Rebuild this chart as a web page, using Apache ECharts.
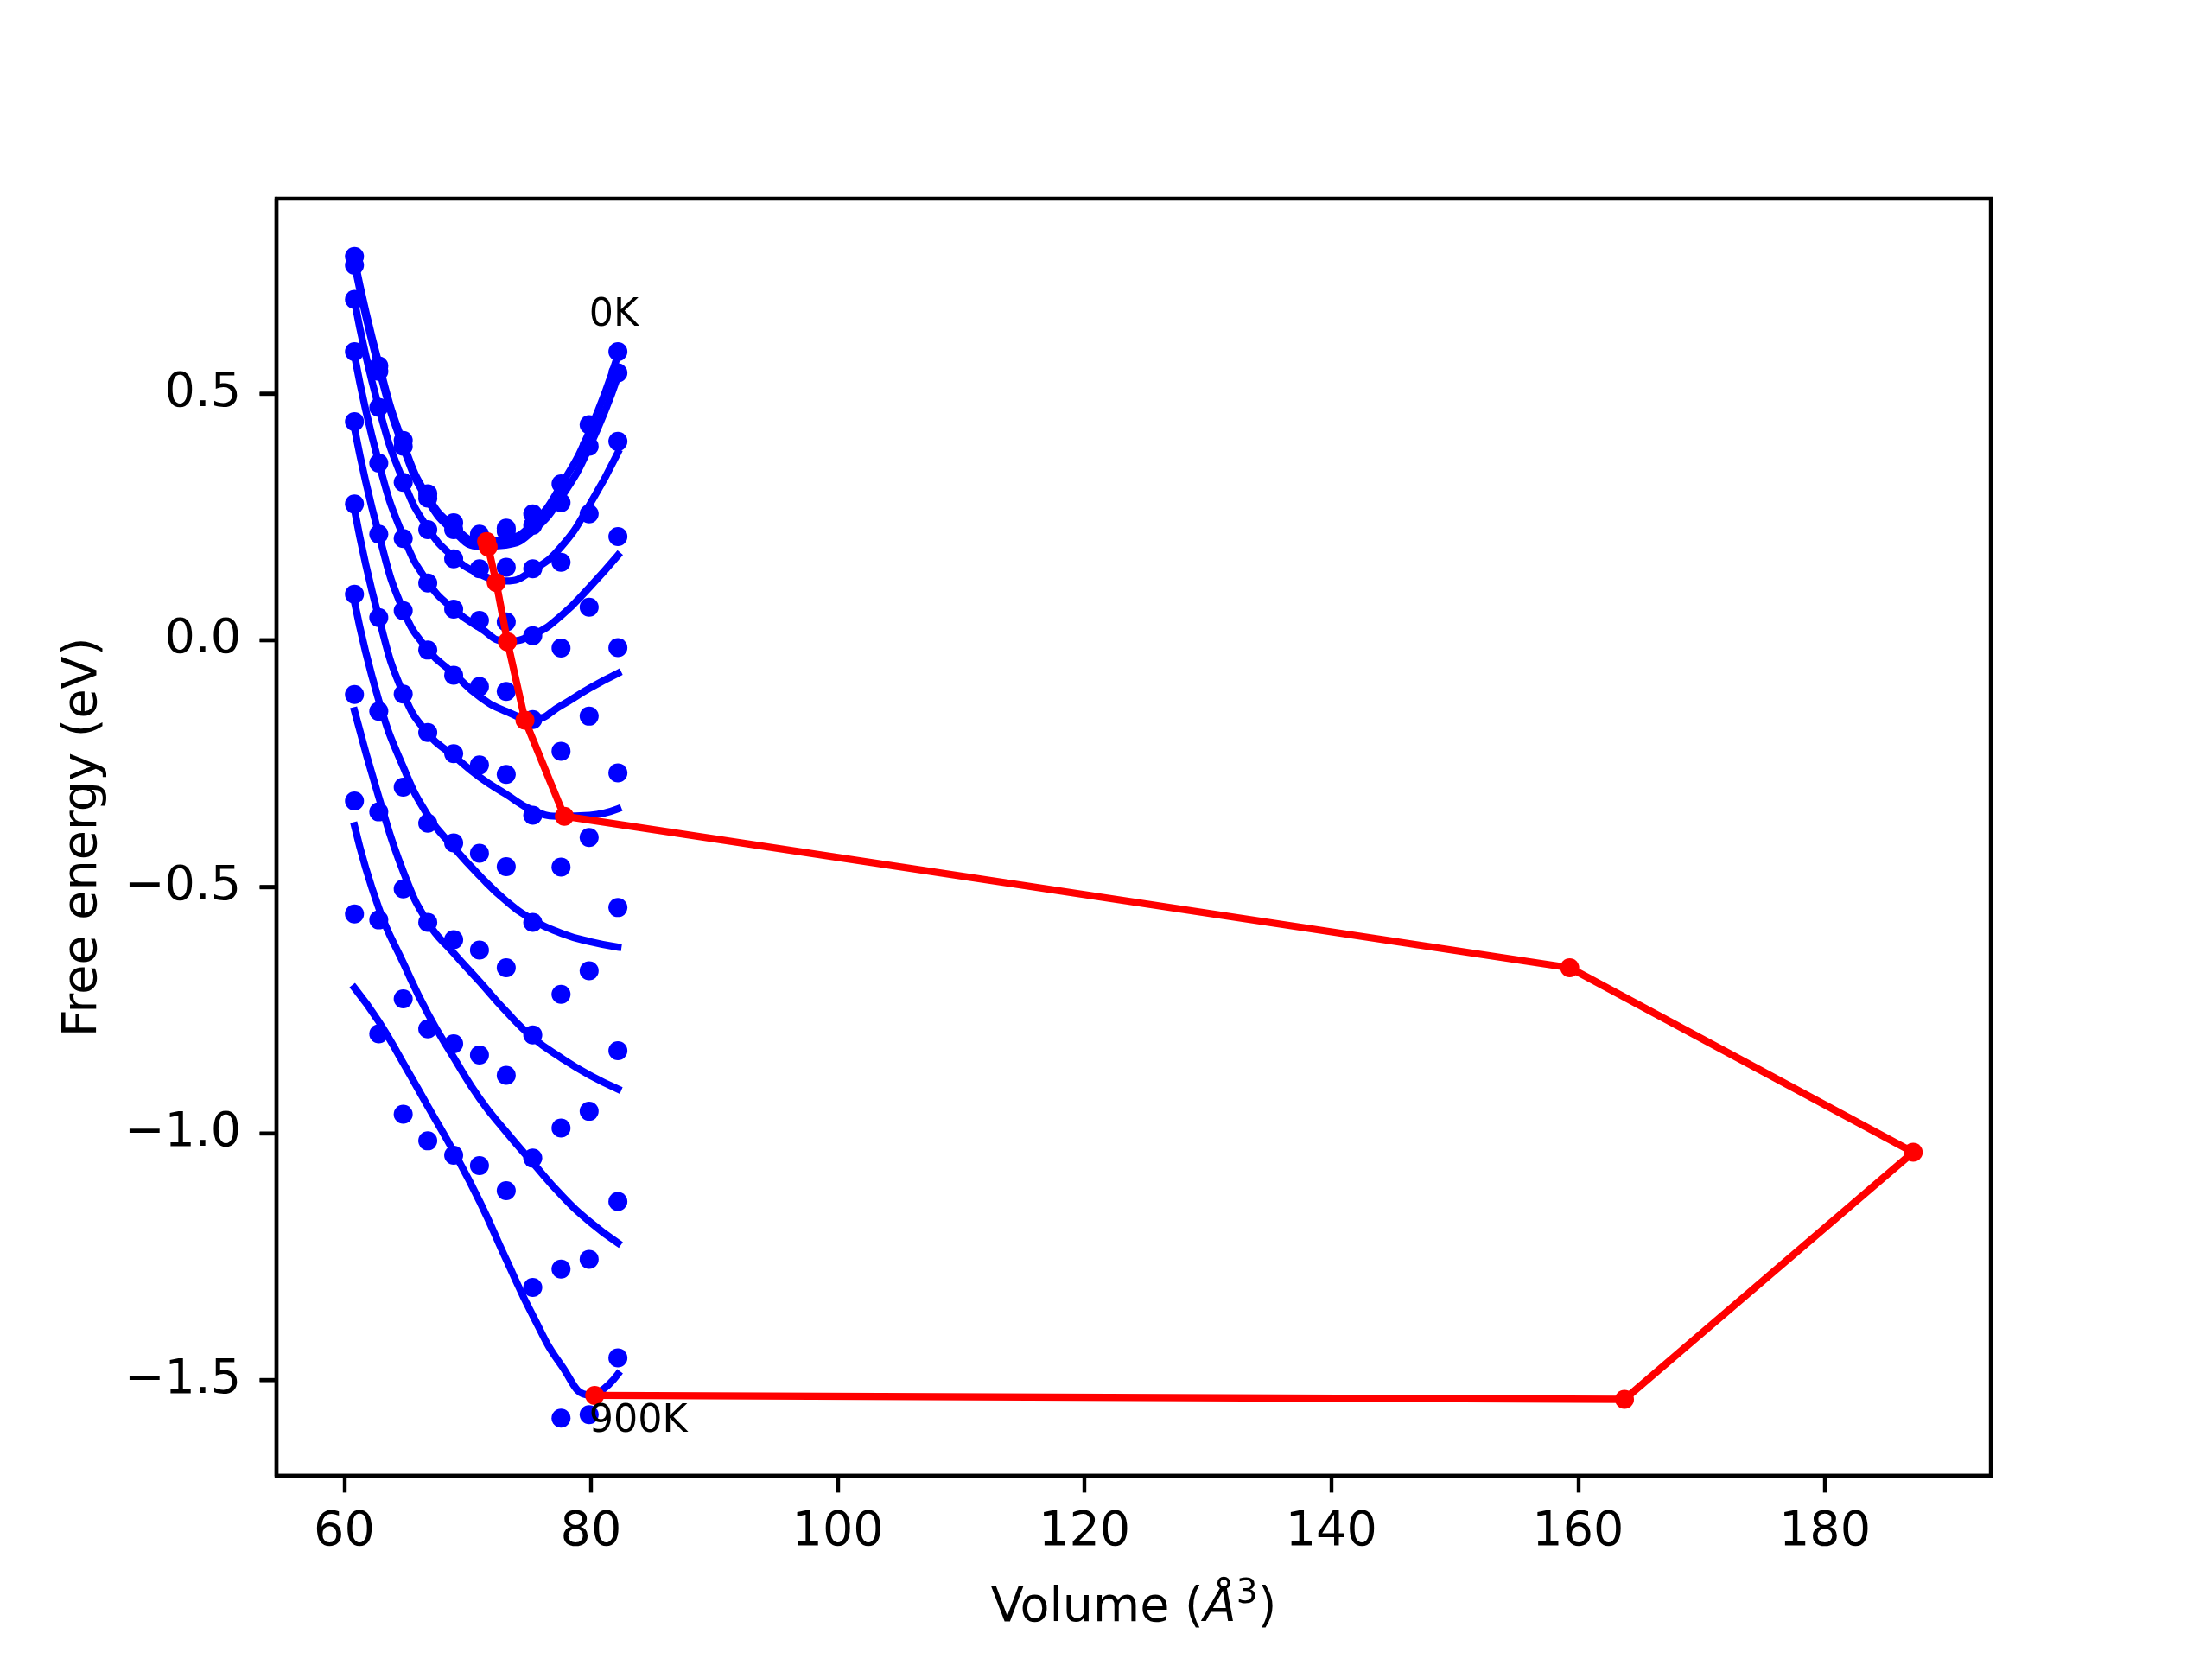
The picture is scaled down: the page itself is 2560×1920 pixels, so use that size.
<!DOCTYPE html>
<html>
<head>
<meta charset="utf-8">
<script src="https://cdn.jsdelivr.net/npm/echarts@6/dist/echarts.min.js"></script>
<style>
html,body{margin:0;padding:0;background:#ffffff;}
#chart{width:2560px;height:1920px;}
</style>
</head>
<body>
<div id="chart"></div>
<script>
// ---- data ----
const temps = ['0K','100K','200K','300K','400K','500K','600K','700K','800K','900K'];
const volumes = [60.83, 62.80, 64.78, 66.77, 68.87, 70.96, 73.13, 75.28, 77.57, 79.85, 82.18];

const F_0K   = [0.778, 0.556, 0.405, 0.297, 0.238, 0.215, 0.227, 0.256, 0.317, 0.437, 0.585];
const F_100K = [0.760, 0.545, 0.393, 0.288, 0.224, 0.209, 0.221, 0.233, 0.279, 0.393, 0.542];
const F_200K = [0.691, 0.472, 0.320, 0.224, 0.165, 0.145, 0.148, 0.145, 0.158, 0.256, 0.403];
const F_300K = [0.585, 0.359, 0.206, 0.116, 0.063, 0.040, 0.037, 0.009, -0.016, 0.067, 0.210];
const F_400K = [0.443, 0.215, 0.060, -0.020, -0.071, -0.094, -0.104, -0.161, -0.225, -0.154, -0.015];
const F_500K = [0.276, 0.046, -0.109, -0.187, -0.230, -0.253, -0.272, -0.355, -0.460, -0.400, -0.269];
const F_600K = [0.093, -0.144, -0.298, -0.371, -0.411, -0.432, -0.459, -0.572, -0.718, -0.670, -0.542];
const F_700K = [-0.110, -0.348, -0.504, -0.572, -0.607, -0.628, -0.664, -0.800, -0.989, -0.955, -0.832];
const F_800K = [-0.326, -0.567, -0.727, -0.788, -0.818, -0.841, -0.882, -1.050, -1.275, -1.255, -1.138];
const F_900K = [-0.555, -0.798, -0.961, -1.015, -1.044, -1.065, -1.116, -1.312, -1.577, -1.570, -1.455];

// fitted curves
const fitV = [60.83, 62.8, 64.8, 66.8, 68.9, 71.0, 73.1, 75.3, 77.6, 79.9, 82.18];
const fit_0K   = [0.772, 0.561, 0.398, 0.290, 0.230, 0.201, 0.205, 0.237, 0.315, 0.425, 0.578];
const fit_100K = [0.762, 0.552, 0.390, 0.282, 0.220, 0.190, 0.193, 0.222, 0.290, 0.393, 0.535];
const fit_200K = [0.688, 0.472, 0.322, 0.226, 0.168, 0.134, 0.120, 0.142, 0.190, 0.275, 0.380];
const fit_300K = [0.578, 0.360, 0.210, 0.117, 0.062, 0.025, -0.002, 0.011, 0.050, 0.108, 0.172];
const fit_400K = [0.430, 0.215, 0.060, -0.020, -0.068, -0.115, -0.144, -0.160, -0.132, -0.097, -0.067];
const fit_500K = [0.265, 0.046, -0.109, -0.190, -0.235, -0.278, -0.312, -0.345, -0.357, -0.355, -0.342];
const fit_600K = [0.078, -0.122, -0.258, -0.356, -0.421, -0.478, -0.528, -0.567, -0.594, -0.611, -0.622];
const fit_700K = [-0.143, -0.318, -0.470, -0.573, -0.635, -0.693, -0.752, -0.806, -0.847, -0.882, -0.910];
const fit_800K = [-0.376, -0.543, -0.655, -0.758, -0.847, -0.930, -0.996, -1.060, -1.125, -1.179, -1.222];
const fit_900K = [-0.705, -0.773, -0.858, -0.946, -1.038, -1.139, -1.254, -1.370, -1.470, -1.530, -1.488];

// minima of each temperature
const minV = [71.54, 71.66, 72.32, 73.23, 74.65, 77.84, 159.32, 187.16, 163.76, 80.30];
const minF = [0.200, 0.189, 0.117, -0.003, -0.162, -0.357, -0.664, -1.038, -1.539, -1.531];

// annotations
const noteText = ['0K', '900K'];
const noteV = [79.85, 79.85];
const noteF = [0.637, -1.606];

// axes
const xTicks = [60, 80, 100, 120, 140, 160, 180];
const yTicks = [-1.5, -1.0, -0.5, 0.0, 0.5];
const xRange = [54.51, 193.45];
const yRange = [-1.694, 0.895];

// ---- build chart ----
const dotF = [F_0K, F_100K, F_200K, F_300K, F_400K, F_500K, F_600K, F_700K, F_800K, F_900K];
const fitF = [fit_0K, fit_100K, fit_200K, fit_300K, fit_400K, fit_500K, fit_600K, fit_700K, fit_800K, fit_900K];

const FONT = 'DejaVu Sans';
const FS = 55.6;
const LW = 8.33;
const MS = 22;
const BLUE = '#0000ff';
const RED = '#ff0000';
const GRID = { left: 320, right: 256, top: 230, bottom: 212 };
const TICK_LEN = 19.4, TICK_W = 4.4;

const series = [];
temps.forEach((t, i) => {
  series.push({
    type: 'scatter', name: t + ' data',
    data: volumes.map((v, j) => [v, dotF[i][j]]),
    symbol: 'circle', symbolSize: MS,
    itemStyle: { color: BLUE, opacity: 1 },
    silent: true, z: 2
  });
  series.push({
    type: 'line', name: t + ' fit',
    data: fitV.map((v, j) => [v, fitF[i][j]]),
    showSymbol: false, symbol: 'none', smooth: 0.5,
    lineStyle: { color: BLUE, width: LW, cap: 'square', join: 'round' },
    silent: true, z: 3
  });
});
series.push({
  type: 'line', name: 'minimum',
  data: minV.map((v, j) => [v, minF[j]]),
  symbol: 'circle', symbolSize: MS, showSymbol: true,
  itemStyle: { color: RED, opacity: 1 },
  lineStyle: { color: RED, width: LW, join: 'round' },
  silent: true, z: 4
});
series.push({
  type: 'scatter', name: 'notes',
  data: noteText.map((s, j) => ({ value: [noteV[j], noteF[j]], name: s })),
  symbolSize: 0,
  label: {
    show: true, formatter: '{b}', position: [0, 0],
    align: 'left', verticalAlign: 'bottom', offset: [0, 10],
    fontFamily: FONT, fontSize: 44.4, color: '#000000',
    textBorderWidth: 0, opacity: 1
  },
  silent: true, z: 5
});
// y-axis tick marks, positioned through the axis scale
series.push({
  type: 'custom', name: 'yticks', clip: false, silent: true, z: 10,
  data: yTicks.map(v => [xRange[0], v]),
  renderItem: (params, api) => {
    const p = api.coord([api.value(0), api.value(1)]);
    return {
      type: 'line',
      shape: { x1: p[0] - TICK_LEN, y1: p[1], x2: p[0], y2: p[1] },
      style: { stroke: '#000', lineWidth: TICK_W, fill: null }
    };
  }
});

const axisLineStyle = { show: true, onZero: false, lineStyle: { color: '#000', width: TICK_W } };

const option = {
  animation: false,
  backgroundColor: '#ffffff',
  textStyle: { fontFamily: FONT },
  grid: Object.assign({}, GRID, {
    show: true, borderColor: '#000', borderWidth: TICK_W, backgroundColor: 'transparent'
  }),
  xAxis: {
    type: 'value', min: xRange[0], max: xRange[1],
    axisLine: axisLineStyle,
    splitLine: { show: false },
    axisTick: { show: true, customValues: xTicks, length: TICK_LEN, inside: false, lineStyle: { color: '#000', width: TICK_W } },
    axisLabel: { show: true, customValues: xTicks, margin: 38, fontSize: FS, fontFamily: FONT, color: '#000',
      formatter: v => String(Math.round(v)) },
    name: '{a|Volume (}{i|Å}{s|3}{a|)}',
    nameLocation: 'middle', nameGap: 112,
    nameTextStyle: {
      fontSize: FS, fontFamily: FONT, color: '#000',
      rich: {
        a: { fontSize: FS, fontFamily: FONT, color: '#000', verticalAlign: 'bottom', lineHeight: 70 },
        i: { fontSize: FS, fontFamily: FONT, fontStyle: 'italic', color: '#000', verticalAlign: 'bottom', lineHeight: 70 },
        s: { fontSize: 39, fontFamily: FONT, color: '#000', verticalAlign: 'bottom', lineHeight: 70, padding: [0, 0, 26, 0] }
      }
    }
  },
  yAxis: {
    type: 'value', min: yRange[0], max: yRange[1],
    axisLine: axisLineStyle,
    splitLine: { show: false },
    axisTick: { show: true, customValues: yTicks, length: TICK_LEN, inside: false, lineStyle: { color: '#000', width: TICK_W } },
    axisLabel: { show: true, customValues: yTicks, margin: 41, fontSize: FS, fontFamily: FONT, color: '#000',
      formatter: v => Number(v).toFixed(1).replace('-', '\u2212') },
    name: 'Free energy (eV)',
    nameLocation: 'middle', nameGap: 195, nameRotate: 90,
    nameTextStyle: { fontSize: FS, fontFamily: FONT, color: '#000' }
  },
  series: series
};

const chart = echarts.init(document.getElementById('chart'), null, { renderer: 'canvas', width: 2560, height: 1920 });
chart.setOption(option);
</script>
</body>
</html>
